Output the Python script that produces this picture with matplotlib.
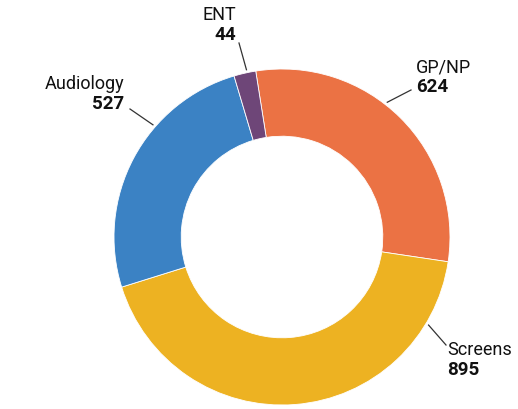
import numpy as np
import matplotlib
matplotlib.use("Agg")
import matplotlib.pyplot as plt

# data
categories = ["GP/NP", "Screens", "Audiology", "ENT"]
values = [624, 895, 527, 44]
colors = ["#EB7244", "#EDB222", "#3B82C4", "#6E4678"]

plt.rcParams['font.family'] = ['Roboto', 'DejaVu Sans']

W, H = 518, 409
fig = plt.figure(figsize=(W / 100, H / 100), dpi=100)
ax = fig.add_axes([0, 0, 1, 1])
ax.axis('off')

cx, cy = 282, H - 237
R = 168
ring = 0.40

ax.pie(values, colors=colors, center=(cx, cy), radius=R,
       startangle=99, counterclock=False,
       wedgeprops=dict(width=R * ring, edgecolor='white', linewidth=0.6))
ax.set_xlim(0, W)
ax.set_ylim(0, H)
ax.set_aspect('equal')

# label layout: (angle on ring for leader start, line end, text anchor, ha)
label_layout = {
    "GP/NP": (52, (411, 90), (416, 67), 'left'),
    "Screens": (-31, (446, 345), (447, 350), 'left'),
    "Audiology": (139, (130, 109), (124, 84), 'right'),
    "ENT": (102, (239, 43), (236, 15), 'right'),
}

for name, val in zip(categories, values):
    ang, (ex, ey), (tx, ty), ha = label_layout[name]
    a = np.deg2rad(ang)
    sx, sy = cx + (R + 3) * np.cos(a), cy + (R + 3) * np.sin(a)
    ax.plot([sx, ex], [sy, H - ey], color='#333333', lw=0.9)
    ax.text(tx, H - ty, name, ha=ha, va='center', fontsize=13, color='#111111')
    ax.text(tx, H - ty - 20, str(val), ha=ha, va='center', fontsize=13.5,
            fontweight='bold', color='#111111')

fig.savefig("out.png", dpi=100, facecolor='white')
